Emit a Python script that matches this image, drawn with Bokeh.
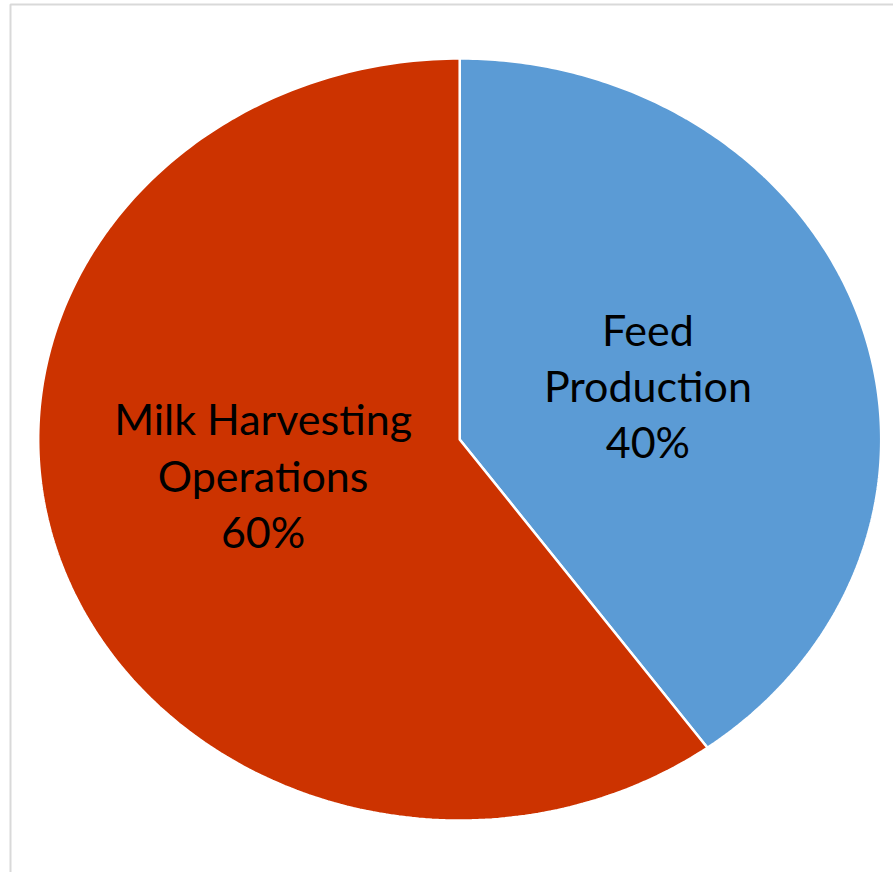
import numpy as np
from bokeh.plotting import figure
from bokeh.models import Range1d, ColumnDataSource
from bokeh.core.properties import value
from bokeh.embed import file_html
from bokeh.resources import INLINE

# Share of each activity
categories = ["Feed Production", "Milk Harvesting Operations"]
label_lines = ["Feed\nProduction", "Milk Harvesting\nOperations"]
shares = [40, 60]
colors = ["#5B9BD5", "#CC3300"]

W, H = 893, 872
# pie centre and half-axes in canvas pixels (the pie is drawn slightly oval)
CX, CY = 459.2, 439.0
RX, RY = 421.5, 381.0

p = figure(width=W, height=H, output_backend="svg", toolbar_location=None,
           x_range=Range1d(-CX / RX, (W - CX) / RX),
           y_range=Range1d(-(H - CY) / RY, CY / RY),
           min_border=0, background_fill_color="white",
           border_fill_color="white")
p.axis.visible = False
p.grid.visible = False
p.outline_line_color = None

# light frame around the chart area
fx = (10 - CX) / RX
fy = (CY - 4) / RY
p.line([fx, fx, 5.0], [-5.0, fy, fy], line_color="#D9D9D9", line_width=2)

# slices, clockwise from 12 o'clock
total = float(sum(shares))
ends = np.cumsum(shares) / total * 2 * np.pi
starts = np.concatenate([[0.0], ends[:-1]])
xs, ys, lx, ly, texts = [], [], [], [], []
for a0, a1, name, v in zip(starts, ends, label_lines, shares):
    t = np.linspace(a0, a1, 240)
    xs.append(np.concatenate([[0.0], np.sin(t), [0.0]]))
    ys.append(np.concatenate([[0.0], np.cos(t), [0.0]]))
    mid = (a0 + a1) / 2
    lx.append(0.48 * np.sin(mid) - 0.01)
    ly.append(0.38 * np.cos(mid) + 0.024)
    texts.append(f"{name}\n{v / total:.0%}")

p.patches(xs, ys, fill_color=colors, line_color="white", line_width=2.5)

src = ColumnDataSource(dict(x=lx, y=ly, text=texts))
fs = 43
p.text("x", "y", text="text", source=src, text_align="center",
       text_baseline="middle", text_font=value("Lato"),
       text_font_size=f"{fs}px", text_line_height=57 / (1.2 * fs),
       text_color="black")

open("out.html", "w").write(file_html(p, INLINE))
